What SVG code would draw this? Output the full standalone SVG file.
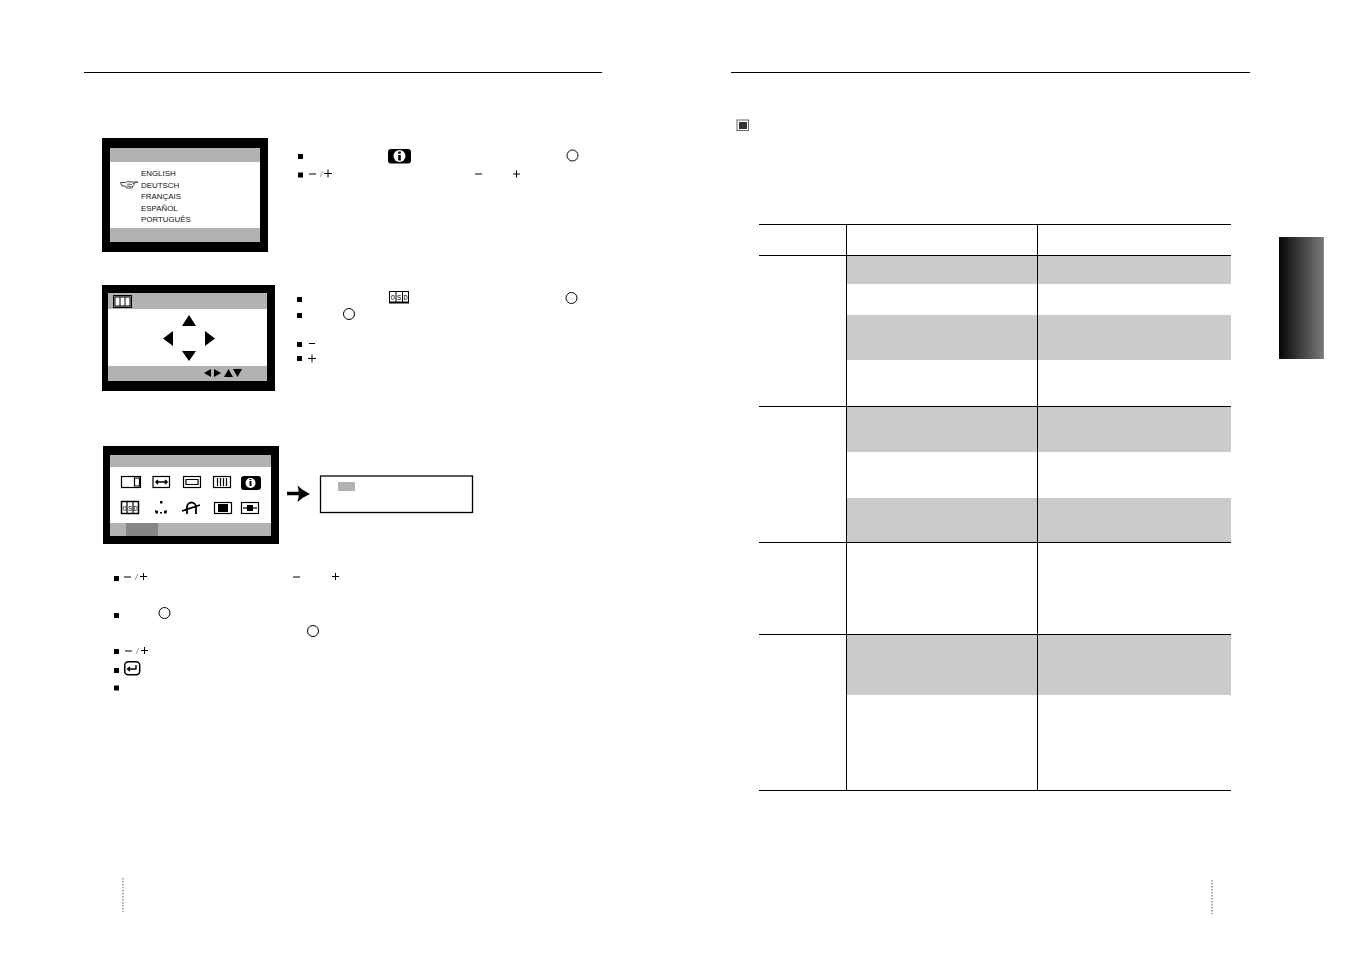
<svg xmlns="http://www.w3.org/2000/svg" width="1351" height="954" viewBox="0 0 1351 954">
<style>
.rule{stroke:#000;stroke-width:1;fill:none}
.band{fill:#cbcbcb}
.mg{fill:#b2b2b2}
.t{font-family:"Liberation Sans",Arial,sans-serif;font-size:7.9px;fill:#111}
.o{font-family:"Liberation Mono",monospace;font-size:7px;fill:#000;text-anchor:middle}
.k{fill:#000}
.c{fill:none;stroke:#000;stroke-width:1}
.ic{fill:none;stroke:#000;stroke-width:1.200}
.sym{stroke:#000;stroke-width:1;fill:none}
.sl{stroke:#777;stroke-width:.8;fill:none}
</style>
<defs>
<linearGradient id="tab" x1="0" y1="0" x2="1" y2="0"><stop offset="0" stop-color="#060606"/><stop offset=".97" stop-color="#777"/><stop offset="1" stop-color="#999"/></linearGradient>
<rect id="b" width="5" height="5" fill="#000"/>
</defs>
<rect width="1351" height="954" fill="#fff"/>
<g id="page-rules">
<path class="rule" d="M84 72.500H602M731 72.500H1250"/>
<path d="M123 878V912M1212 880V914" stroke="#555" stroke-width="1" stroke-dasharray="1.500 1.500" fill="none"/>
</g>
<g id="screen-language">
<rect x="102" y="138" width="166" height="114" fill="#000"/>
<rect x="110" y="148" width="150" height="14" class="mg"/>
<rect x="110" y="162" width="150" height="66" fill="#fff"/>
<rect x="110" y="228" width="150" height="14" class="mg"/>
<text class="t" x="141" y="176">ENGLISH</text>
<text class="t" x="141" y="187.500">DEUTSCH</text>
<text class="t" x="141" y="199">FRANÇAIS</text>
<text class="t" x="141" y="210.500">ESPAÑOL</text>
<text class="t" x="141" y="222">PORTUGUÊS</text>
<path d="M120.500 182.500h5l2-1 3 .5h7.500l-5 1.500 1 1-1 1.500-1 2h-5.500l-1-2h-3.500z" fill="#fff" stroke="#333" stroke-width=".9"/>
<path d="M127 184l5 .5M127 186l4.500 .5" stroke="#333" stroke-width=".8" fill="none"/>
</g>
<g id="screen-position">
<rect x="102" y="285" width="173" height="106" fill="#000"/>
<rect x="108" y="293" width="159" height="16" class="mg"/>
<rect x="108" y="309" width="159" height="57" fill="#fff"/>
<rect x="108" y="366" width="159" height="15" class="mg"/>
<rect x="113.500" y="295.500" width="18" height="12" fill="#b2b2b2" stroke="#000"/>
<rect x="115" y="297" width="15" height="9" fill="#fff" stroke="#000"/>
<path d="M120 297v9M125 297v9" stroke="#000"/>
<path class="k" d="M189 315l7 11h-14zM163 338.500l10-7.500v15zM215 338.500l-10-7.500v15zM189 361l-7-10h14z"/>
<path class="k" d="M204 373l7-4v8zM221 373l-7-4v8zM228.500 369l4.500 8h-9zM237.500 377l-4.500-8h9z"/>
</g>
<g id="screen-menu">
<rect x="103" y="446" width="176" height="98" fill="#000"/>
<rect x="110" y="455" width="161" height="12" class="mg"/>
<rect x="110" y="467" width="161" height="56" fill="#fff"/>
<rect x="110" y="523" width="161" height="13" class="mg"/>
<rect x="126" y="523" width="32" height="13" fill="#868686"/>
<g class="ic">
<rect x="121.500" y="476.500" width="19" height="11"/><path d="M134.500 478v8h5v-8z"/>
<rect x="153" y="476.500" width="16.500" height="11"/><path d="M156 482h11M158 480l-2 2 2 2M165 480l2 2-2 2" stroke-width="1.500"/>
<rect x="183.500" y="476.500" width="17" height="11"/><path d="M186 479.500h12v5h-12z"/>
<rect x="213.500" y="476.500" width="17" height="11"/><path d="M217.500 478v8M220.500 478v8M223.500 478v8M226.500 478v8"/>
<rect x="121.500" y="501.500" width="17" height="12" stroke-width="1.500"/><path d="M127 502v11M133 502v11"/>
<path d="M182 511l18-6M187 514v-7a4.500 4.500 0 0 1 9 0v7" stroke-width="1.800"/>
<rect x="214.500" y="502.500" width="17" height="11"/>
<rect x="241.500" y="502.500" width="17" height="11"/><path d="M243 508h14"/>
</g>
<rect x="241" y="476" width="20" height="14" rx="3" class="k"/>
<circle cx="250.500" cy="483" r="5" fill="#fff"/><rect x="249.500" y="481" width="2" height="5" class="k"/><rect x="249.500" y="479" width="2" height="1" class="k"/>
<rect x="218" y="504" width="10" height="8" class="k"/>
<rect x="247" y="505" width="6" height="6" class="k"/>
<path class="k" d="M160 501h2.500v2.500h-2.500zM155 510l3 1v2.500h-2.500zM167 510l-3 1v2.500h2.500zM160 512h2v1.500h-2z"/>
<text class="o" x="124.500" y="510.500">O</text><text class="o" x="130" y="510.500">S</text><text class="o" x="135.500" y="510.500">D</text>
</g>
<g id="arrow">
<path d="M287 493.500h13" stroke="#000" stroke-width="3.500"/>
<path class="k" d="M297.500 485.500Q303 491 310 494Q303 497 297.500 502Q300 494 297.500 485.500z"/>
</g>
<g id="value-box">
<rect x="320.500" y="476" width="152" height="36.500" fill="#fff" stroke="#000" stroke-width="1.300"/>
<rect x="338" y="482" width="17" height="9" class="mg"/>
</g>
<g id="instructions-1">
<use href="#b" x="298" y="154"/><use href="#b" x="298" y="172.500"/>
<rect x="388" y="149" width="23" height="14.500" rx="3" class="k"/>
<circle cx="399.500" cy="156" r="6" fill="#fff"/><rect x="398.200" y="155" width="2.600" height="5.500" class="k"/><rect x="398.200" y="151.500" width="2.600" height="2.200" class="k"/>
<circle class="c" cx="572.500" cy="155.500" r="5.500"/>
<path class="sym" d="M309 174h7M324 173.500h8M328 169.500v8M475 174h7M513 174h7M516.500 170.500v7"/>
<path class="sl" d="M320 177l3-6"/>
</g>
<g id="instructions-2">
<use href="#b" x="297" y="297"/><use href="#b" x="297" y="313"/><use href="#b" x="297" y="342"/><use href="#b" x="297" y="356"/>
<rect x="389.500" y="291.500" width="19" height="11" fill="#fff" stroke="#000"/>
<path d="M396 291v12M402.500 291v12" stroke="#000"/>
<rect x="389" y="301.500" width="20" height="2" class="k"/>
<text class="o" x="392.800" y="299.500">O</text><text class="o" x="399.200" y="299.500">S</text><text class="o" x="405.500" y="299.500">D</text>
<circle class="c" cx="571.500" cy="298" r="5.500"/>
<circle class="c" cx="349" cy="314" r="5.500"/>
<path class="sym" d="M309 343.500h6M308 358.500h8M312 354.500v8"/>
</g>
<g id="instructions-3">
<use href="#b" x="114" y="576"/><use href="#b" x="114" y="613"/><use href="#b" x="114" y="649"/><use href="#b" x="114" y="668"/><use href="#b" x="114" y="685.500"/>
<circle class="c" cx="164.500" cy="613" r="5.500"/>
<circle class="c" cx="313" cy="631" r="5.500"/>
<path class="sym" d="M124 577h7M140 576.500h7M143.500 573v7M293 577h7M332 576.500h7M335.500 573v7M125 651h7M141 650.500h7M144.500 647v7"/>
<path class="sl" d="M135 580l3-6M136 654l3-6"/>
<rect x="124.700" y="661.700" width="15" height="13" rx="3.500" fill="#fff" stroke="#000" stroke-width="1.500"/>
<path d="M136 665v4h-8M130 667l-2.500 2 2.500 2" fill="none" stroke="#000" stroke-width="1.400"/>
</g>
<g id="section-marker">
<rect x="737" y="120" width="11.500" height="10.500" fill="#fff" stroke="#666" stroke-width="1"/>
<rect x="739" y="122" width="8" height="7" fill="#333"/>
</g>
<g id="side-tab"><rect x="1279" y="237" width="45" height="122" fill="url(#tab)"/></g>
<g id="table">
<rect class="band" x="847" y="255" width="384" height="29"/>
<rect class="band" x="847" y="315" width="384" height="45"/>
<rect class="band" x="847" y="406" width="384" height="46"/>
<rect class="band" x="847" y="498" width="384" height="44"/>
<rect class="band" x="847" y="634" width="384" height="61"/>
<path class="rule" d="M759 224.500H1231M759 255.500H1231M759 406.500H1231M759 542.500H1231M759 634.500H1231M759 790.500H1231M846.500 224V791M1037.500 224V791"/>
</g>
</svg>
